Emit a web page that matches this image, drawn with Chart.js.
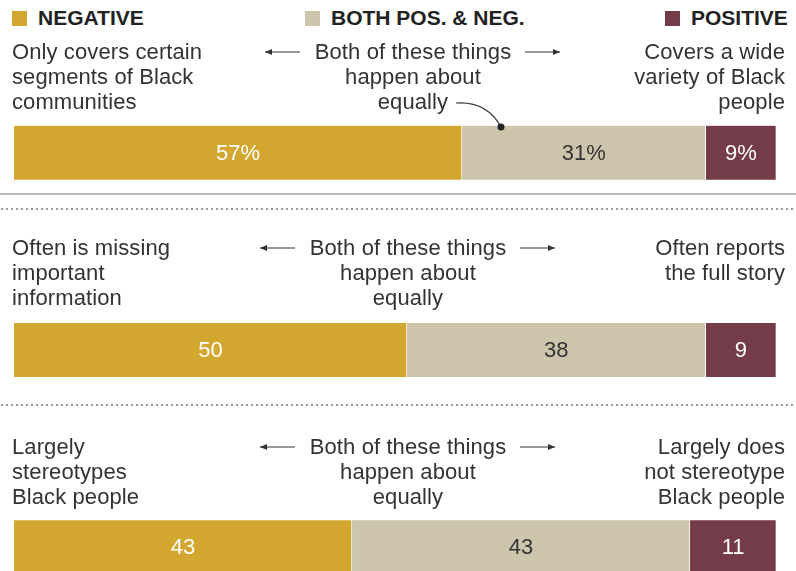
<!DOCTYPE html>
<html>
<head>
<meta charset="utf-8">
<script src="https://cdn.jsdelivr.net/npm/chart.js@4.4.1/dist/chart.umd.min.js"></script>
<style>
  body { margin: 0; width: 796px; height: 571px; overflow: hidden; background: #fff; position: relative;
         font-family: "Liberation Sans", Arial, sans-serif; color: #333; }
  #chart { position: absolute; left: 0; top: 54px; z-index: 0; }
  #overlay { position: absolute; left: 0; top: 0; z-index: 2; pointer-events: none; }
  .txt { position: absolute; font-size: 22px; line-height: 25px; letter-spacing: 0.1px; white-space: nowrap; z-index: 1; }
  .left { left: 12px; text-align: left; }
  .right { right: 11px; text-align: right; }
  .mid { text-align: center; transform: translateX(-50%); }
  .key { position: absolute; top: 7px; font-weight: bold; font-size: 21px; line-height: 22px; color: #222; white-space: nowrap; }
  .key i { display: inline-block; width: 15px; height: 15px; margin-right: 11px; vertical-align: -1px; }
</style>
</head>
<body>
<div class="key" style="left:12px"><i id="k0"></i>NEGATIVE</div>
<div class="key" style="left:305px"><i id="k1"></i>BOTH POS. &amp; NEG.</div>
<div class="key" style="left:665px"><i id="k2"></i>POSITIVE</div>
<canvas id="chart" width="796" height="592"></canvas>
<svg id="overlay" width="796" height="571"></svg>
<script>
// survey items, one row per question
const categories = ["Coverage", "Information", "Stereotypes"];
const negative = [57, 50, 43];
const both = [31, 38, 43];
const positive = [9, 9, 11];
const seriesNames = ["NEGATIVE", "BOTH POS. & NEG.", "POSITIVE"];

// wording shown above each bar
const leftText = [
  ["Only covers certain", "segments of Black", "communities"],
  ["Often is missing", "important", "information"],
  ["Largely", "stereotypes", "Black people"]
];
const rightText = [
  ["Covers a wide", "variety of Black", "people"],
  ["Often reports", "the full story"],
  ["Largely does", "not stereotype", "Black people"]
];
const midText = ["Both of these things", "happen about", "equally"];

const colors = ["#d3a72f", "#cdc5ab", "#733c48"];
const labelColors = ["#ffffff", "#333333", "#ffffff"];

// layout of the text blocks
const blockTops = [39, 235, 434];
const midCenters = [413, 408, 408];

colors.forEach((c, i) => document.getElementById("k" + i).style.background = c);

function addText(cls, lines, top, left) {
  const d = document.createElement("div");
  d.className = "txt " + cls;
  d.style.top = top + "px";
  if (left !== undefined) d.style.left = left + "px";
  d.innerHTML = lines.join("<br>");
  document.body.appendChild(d);
}

const svg = document.getElementById("overlay");
const ns = "http://www.w3.org/2000/svg";
function svgEl(tag, attrs) {
  const e = document.createElementNS(ns, tag);
  for (const k in attrs) e.setAttribute(k, attrs[k]);
  svg.appendChild(e);
  return e;
}
function arrow(x1, x2, y, dir) {
  svgEl("line", { x1: x1, y1: y, x2: x2, y2: y, stroke: "#333", "stroke-width": 1.2 });
  const tip = dir < 0 ? x1 : x2;
  const back = tip - dir * 7;
  svgEl("polygon", { points: `${tip},${y} ${back},${y - 3} ${back},${y + 3}`, fill: "#333" });
}

categories.forEach((c, i) => {
  addText("left", leftText[i], blockTops[i]);
  addText("right", rightText[i], blockTops[i]);
  addText("mid", midText, blockTops[i], midCenters[i]);
  const y = blockTops[i] + 13;
  arrow(midCenters[i] - 148, midCenters[i] - 113, y, -1);
  arrow(midCenters[i] + 112, midCenters[i] + 147, y, 1);
});

// separators between the rows
svgEl("line", { x1: 0, y1: 194, x2: 796, y2: 194, stroke: "#a3a3a3", "stroke-width": 1.5 });
[209, 405].forEach(y => svgEl("line", { x1: 1, y1: y, x2: 796, y2: y, stroke: "#9a9a9a", "stroke-width": 2, "stroke-dasharray": "2 3" }));

// pointer from "equally" to the middle segment
svgEl("path", { d: "M456 103 Q487 101 501 127", fill: "none", stroke: "#333", "stroke-width": 1.2 });
svgEl("circle", { cx: 501, cy: 127, r: 3.5, fill: "#222" });

const valueLabels = {
  id: "valueLabels",
  afterDatasetsDraw(chart) {
    const ctx = chart.ctx;
    ctx.save();
    ctx.font = '22px "Liberation Sans", Arial, sans-serif';
    ctx.textAlign = "center";
    ctx.textBaseline = "middle";
    chart.data.datasets.forEach((ds, di) => {
      chart.getDatasetMeta(di).data.forEach((bar, i) => {
        const v = ds.data[i];
        ctx.fillStyle = labelColors[di];
        ctx.fillText(i === 0 ? v + "%" : String(v), (bar.x + bar.base) / 2, bar.y + 1);
      });
    });
    ctx.restore();
  }
};

new Chart(document.getElementById("chart"), {
  type: "bar",
  data: {
    labels: categories,
    datasets: [negative, both, positive].map((d, i) => ({
      label: seriesNames[i],
      data: d,
      backgroundColor: colors[i],
      borderColor: "#ffffff",
      borderWidth: { right: 1, left: 0, top: 0, bottom: 0 },
      barThickness: 54
    }))
  },
  options: {
    indexAxis: "y",
    responsive: false,
    animation: false,
    layout: { padding: { left: 14, right: 0, top: 0, bottom: 0 } },
    scales: {
      x: { stacked: true, min: 0, max: 99.5, display: false },
      y: { stacked: true, display: false }
    },
    plugins: { legend: { display: false }, tooltip: { enabled: false } }
  },
  plugins: [valueLabels]
});
</script>
</body>
</html>
